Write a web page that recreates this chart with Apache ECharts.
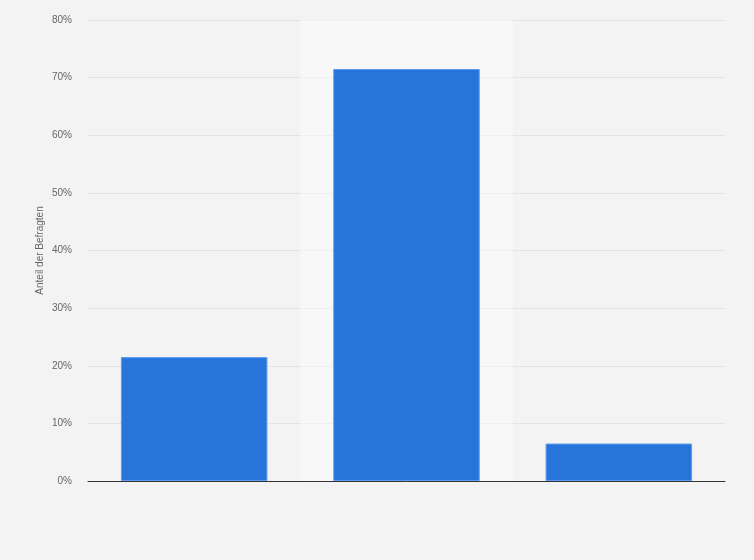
<!DOCTYPE html>
<html>
<head>
<meta charset="utf-8">
<script src="https://cdn.jsdelivr.net/npm/echarts@6/dist/echarts.min.js"></script>
<style>
  html, body { margin: 0; padding: 0; background: #f3f3f3; }
  #chart { width: 754px; height: 560px; }
</style>
</head>
<body>
<div id="chart"></div>
<script>
// Werte (Prozent)
var categories = ['Antwort A', 'Antwort B', 'Antwort C'];
var shares = [21.5, 71.5, 6.5];
var yTicks = { min: 0, max: 80, interval: 10 };

var chart = echarts.init(document.getElementById('chart'));

var option = {
  backgroundColor: '#f3f3f3',
  animation: false,
  grid: { left: 88, right: 29, top: 20, bottom: 79, containLabel: false },
  xAxis: {
    type: 'category',
    data: categories,
    axisLine: { lineStyle: { color: '#333', width: 1 } },
    axisTick: { show: false },
    axisLabel: { show: false },
    axisPointer: {
      show: true,
      type: 'shadow',
      value: 1,
      status: 'show',
      z: 0,
      triggerTooltip: false,
      label: { show: false },
      shadowStyle: { color: 'rgba(255,255,255,0.45)' }
    }
  },
  yAxis: {
    type: 'value',
    min: yTicks.min,
    max: yTicks.max,
    interval: yTicks.interval,
    name: 'Anteil der Befragten',
    nameLocation: 'middle',
    nameGap: 43,
    nameMoveOverlap: false,
    nameTextStyle: { color: '#666', fontSize: 10, fontFamily: 'Arial, Liberation Sans, sans-serif' },
    axisLine: { show: false },
    axisTick: { show: false },
    axisLabel: {
      formatter: '{value}%',
      color: '#666',
      fontSize: 10,
      margin: 16,
      fontFamily: 'Arial, Liberation Sans, sans-serif'
    },
    splitLine: { lineStyle: { color: '#d6d6d6', type: 'dotted', width: 1 } }
  },
  series: [
    {
      type: 'bar',
      z: 5,
      data: shares,
      barWidth: '69%',
      itemStyle: { color: '#2775db', borderColor: '#5c9cf0', borderWidth: 1 },
      emphasis: { disabled: true },
      blur: { itemStyle: { opacity: 1 } }
    }
  ]
};

chart.setOption(option);
window.addEventListener('resize', chart.resize);
</script>
</body>
</html>
